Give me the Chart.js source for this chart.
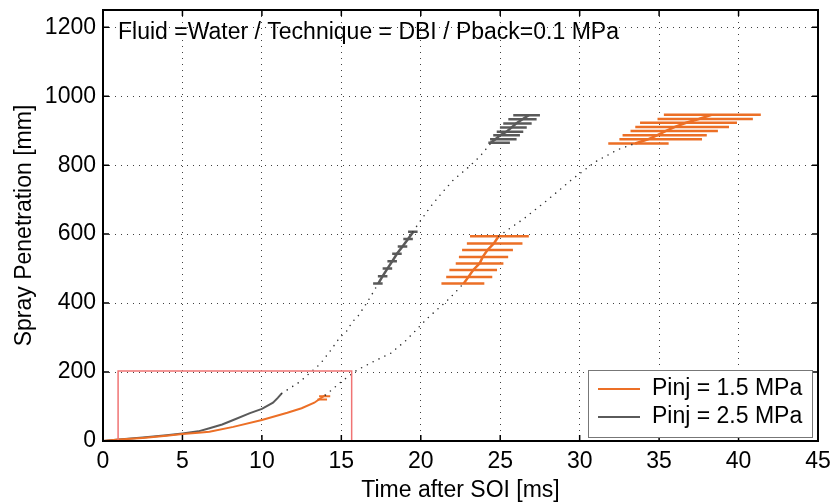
<!DOCTYPE html>
<html>
<head>
<meta charset="utf-8">
<script src="https://cdn.jsdelivr.net/npm/chart.js@4.4.0/dist/chart.umd.min.js"></script>
<style>
  body { margin: 0; background: #fff; }
  #wrap { width: 831px; height: 504px; }
</style>
</head>
<body>
<div id="wrap"><canvas id="sprayChart" width="831" height="504"></canvas></div>
<script>
// ---- data ----
const seriesLabels = ['Pinj = 1.5 MPa', 'Pinj = 2.5 MPa'];
const noteText = 'Fluid =Water / Technique = DBI / Pback=0.1 MPa';

// solid traces (early penetration, time in ms / penetration in mm)
const p15Time = [0, 1, 2.5, 4, 5, 6, 6.7, 8.2, 10, 11.6, 12.5, 13.3, 13.7, 14.0];
const p15Pen  = [0, 4, 9, 15, 20, 24, 27, 41, 61, 82, 95, 111, 124, 133];
const p25Time = [0, 1, 2.5, 4, 5, 6, 6.7, 7.5, 8.2, 9.25, 10, 10.7, 11.0, 11.25];
const p25Pen  = [0, 4, 10, 17, 22, 28, 37, 48, 61, 81, 93, 111, 125, 138];

// dotted connections between measurement windows
const p15DotATime = [14.0, 15.0, 16.0, 17.0, 18.1, 19.1, 20.4, 21.0, 21.8, 22.6];
const p15DotAPen  = [133, 172, 206, 230, 254, 293, 355, 380, 413, 452];
const p15DotBTime = [24.9, 26.5, 28.0, 29.5, 31.0, 32.4, 33.5];
const p15DotBPen  = [594, 645, 700, 758, 810, 845, 863];
const p25DotATime = [11.25, 12.4, 13.7, 14.3, 14.9, 15.4, 15.65, 16.1, 16.6, 16.9, 17.3];
const p25DotAPen  = [138, 172, 225, 261, 300, 322, 343, 365, 401, 423, 455];
const p25DotBTime = [19.5, 19.7, 20.6, 21.3, 22.05, 22.9, 23.7, 24.4];
const p25DotBPen  = [607, 620, 679, 718, 757, 790, 824, 863];

// measurement windows: mean line + horizontal error bars
const p15WinAPen  = [457, 476, 496, 515, 534, 554, 573, 594];
const p15WinATime = [22.7, 23.0, 23.3, 23.7, 23.9, 24.2, 24.6, 24.9];
const p15WinAMin  = [21.3, 21.6, 21.8, 22.2, 22.4, 22.6, 22.9, 23.1];
const p15WinAMax  = [24.0, 24.5, 24.8, 25.2, 25.5, 25.8, 26.4, 26.8];

const p15WinBPen  = [863, 875, 887, 899, 911, 923, 934, 946];
const p15WinBTime = [33.5, 34.3, 34.9, 35.4, 36.0, 36.7, 37.5, 38.3];
const p15WinBMin  = [31.8, 32.5, 32.7, 33.2, 33.5, 33.8, 34.9, 35.3];
const p15WinBMax  = [35.6, 37.7, 38.0, 38.7, 39.4, 39.9, 40.9, 41.4];

const p15EndPen  = [120, 130];
const p15EndMin  = [13.5, 13.6];
const p15EndMax  = [14.1, 14.3];

const p25WinAPen  = [457, 478, 500, 521, 543, 564, 586, 607];
const p25WinATime = [17.33, 17.6, 17.9, 18.2, 18.5, 18.85, 19.2, 19.53];
const p25WinAMin  = [17.0, 17.3, 17.6, 17.9, 18.2, 18.55, 18.9, 19.2];
const p25WinAMax  = [17.6, 17.9, 18.2, 18.5, 18.8, 19.15, 19.5, 19.8];

const p25WinBPen  = [865, 875, 887, 897, 909, 921, 933, 945];
const p25WinBTime = [24.4, 24.7, 25.0, 25.4, 25.7, 26.0, 26.4, 26.8];
const p25WinBMin  = [24.25, 24.36, 24.56, 24.78, 24.98, 25.19, 25.51, 25.82];
const p25WinBMax  = [25.61, 26.03, 26.24, 26.45, 26.67, 26.98, 27.29, 27.5];

// zoom box around the early part
const boxTime = [0.95, 0.95, 15.65, 15.65, 0.95];
const boxPen  = [0, 203, 203, 0, 0];

const ORANGE = '#EC6F26';
const GRAY = '#5A5A5A';
const FONT = '"Liberation Sans", Arial, Helvetica, sans-serif';
const FSIZE = 23;

function pts(xs, ys) {
  return xs.map((x, i) => ({ x: x, y: ys[i] }));
}
// error bars as separate segments, broken with null points
function bars(mins, maxs, ys) {
  const out = [];
  ys.forEach((y, i) => {
    out.push({ x: mins[i], y: y }, { x: maxs[i], y: y }, { x: maxs[i], y: null });
  });
  return out;
}

const solid = (label, data, color, w) => ({
  label, data, borderColor: color, backgroundColor: color,
  borderWidth: w || 2, pointRadius: 0, tension: 0, spanGaps: false
});
const dotted = (data) => ({
  label: '', data, borderColor: '#333', borderWidth: 1.6,
  borderDash: [0, 6.5], borderCapStyle: 'round', pointRadius: 0, tension: 0
});

// ---- plugins ----
const frameAndNote = {
  id: 'frameAndNote',
  afterDatasetsDraw(chart) {
    const { ctx, chartArea: a, scales } = chart;
    ctx.save();
    // inward tick marks
    ctx.strokeStyle = '#000';
    ctx.lineWidth = 1.5;
    ctx.beginPath();
    scales.x.ticks.forEach(t => {
      const px = scales.x.getPixelForValue(t.value);
      ctx.moveTo(px, a.bottom); ctx.lineTo(px, a.bottom - 6);
      ctx.moveTo(px, a.top); ctx.lineTo(px, a.top + 6);
    });
    scales.y.ticks.forEach(t => {
      const py = scales.y.getPixelForValue(t.value);
      ctx.moveTo(a.left, py); ctx.lineTo(a.left + 6, py);
      ctx.moveTo(a.right, py); ctx.lineTo(a.right - 6, py);
    });
    ctx.stroke();
    // axes box
    ctx.lineWidth = 2;
    ctx.strokeRect(a.left, a.top, a.right - a.left, a.bottom - a.top);

    // annotation
    ctx.fillStyle = '#000';
    ctx.font = FSIZE + 'px ' + FONT;
    ctx.textBaseline = 'middle';
    ctx.textAlign = 'left';
    ctx.fillText(noteText, a.left + 15, a.top + 23);

    // legend, lower right inside the axes
    const w = 224, h = 67;
    const lx = a.right - 6 - w, ly = a.bottom - 4 - h;
    ctx.fillStyle = '#fff';
    ctx.fillRect(lx, ly, w, h);
    ctx.strokeStyle = '#777';
    ctx.lineWidth = 1;
    ctx.strokeRect(lx + 0.5, ly + 0.5, w, h);
    [ORANGE, GRAY].forEach((c, i) => {
      const yy = ly + 19 + i * 28;
      ctx.strokeStyle = c;
      ctx.lineWidth = 2;
      ctx.beginPath();
      ctx.moveTo(lx + 10, yy); ctx.lineTo(lx + 52, yy);
      ctx.stroke();
      ctx.fillStyle = '#000';
      ctx.fillText(seriesLabels[i], lx + 64, yy);
    });
    ctx.restore();
  }
};

new Chart(document.getElementById('sprayChart'), {
  type: 'line',
  data: {
    datasets: [
      solid('box', pts(boxTime, boxPen), '#F07474', 1.5),
      dotted(pts(p15DotATime, p15DotAPen)),
      dotted(pts(p15DotBTime, p15DotBPen)),
      dotted(pts(p25DotATime, p25DotAPen)),
      dotted(pts(p25DotBTime, p25DotBPen)),
      solid(seriesLabels[0], pts(p15Time, p15Pen), ORANGE),
      solid(seriesLabels[1], pts(p25Time, p25Pen), GRAY),
      solid('p15 bars A', bars(p15WinAMin, p15WinAMax, p15WinAPen), ORANGE, 2.5),
      solid('p15 bars B', bars(p15WinBMin, p15WinBMax, p15WinBPen), ORANGE, 2.5),
      solid('p15 bars end', bars(p15EndMin, p15EndMax, p15EndPen), ORANGE),
      solid('p15 mean A', pts(p15WinATime, p15WinAPen), ORANGE, 2.5),
      solid('p15 mean B', pts(p15WinBTime, p15WinBPen), ORANGE, 2.5),
      solid('p25 bars A', bars(p25WinAMin, p25WinAMax, p25WinAPen), GRAY, 2.5),
      solid('p25 bars B', bars(p25WinBMin, p25WinBMax, p25WinBPen), GRAY, 2.5),
      solid('p25 mean A', pts(p25WinATime, p25WinAPen), GRAY, 2.5),
      solid('p25 mean B', pts(p25WinBTime, p25WinBPen), GRAY, 2.5)
    ]
  },
  options: {
    responsive: false,
    animation: false,
    layout: { padding: { left: 0, right: 13, top: 10, bottom: 0 } },
    plugins: {
      legend: { display: false },
      tooltip: { enabled: false }
    },
    scales: {
      x: {
        type: 'linear',
        min: 0,
        max: 45,
        ticks: { stepSize: 5, padding: 7, color: '#000', font: { size: FSIZE, family: FONT },
                 callback: v => String(v) },
        grid: { color: 'rgba(0,0,0,0.75)', lineWidth: 1, drawTicks: false },
        border: { display: false, dash: [1, 5] },
        title: {
          display: true, text: 'Time after SOI [ms]', color: '#000',
          font: { size: FSIZE, family: FONT }, padding: { top: 0, bottom: 0 }
        },
        afterFit(s) { s.height = 63; s.paddingLeft = 0; s.paddingRight = 0; }
      },
      y: {
        type: 'linear',
        min: 0,
        max: 1250,
        ticks: { stepSize: 200, includeBounds: false, padding: 7, color: '#000',
                 font: { size: FSIZE, family: FONT }, callback: v => String(v) },
        grid: { color: 'rgba(0,0,0,0.75)', lineWidth: 1, drawTicks: false },
        border: { display: false, dash: [1, 5] },
        title: {
          display: true, text: 'Spray Penetration [mm]', color: '#000',
          font: { size: FSIZE, family: FONT }, padding: { top: 11, bottom: 0 }
        },
        afterFit(s) { s.width = 103; s.paddingTop = 0; s.paddingBottom = 0; }
      }
    }
  },
  plugins: [frameAndNote]
});
</script>
</body>
</html>
